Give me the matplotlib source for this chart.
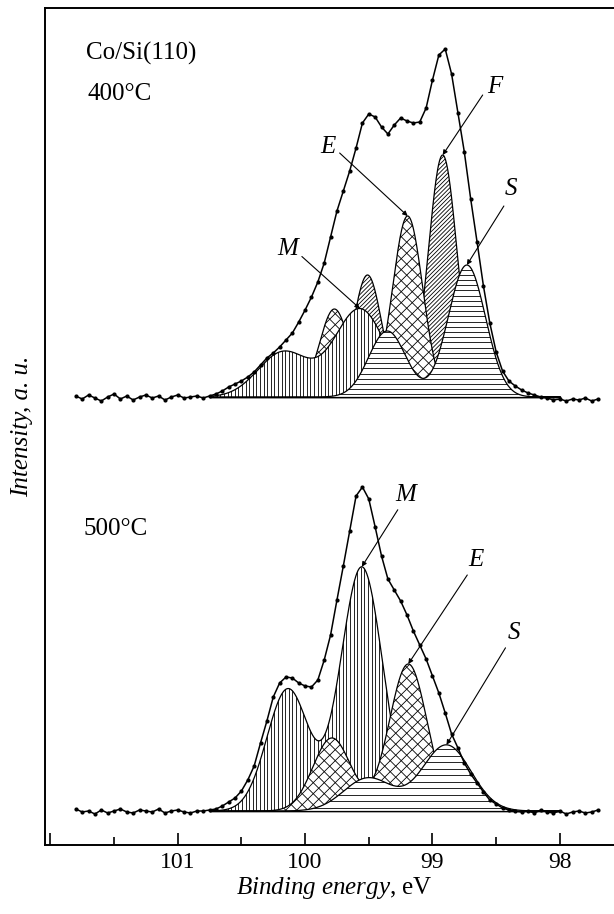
import numpy as np
import matplotlib
matplotlib.use("Agg")
import matplotlib.pyplot as plt
from matplotlib.patches import Polygon
from matplotlib.collections import LineCollection

plt.rcParams["font.family"] = ["Liberation Serif", "DejaVu Serif"]
plt.rcParams["mathtext.fontset"] = "custom"
plt.rcParams["mathtext.rm"] = "Liberation Serif"
plt.rcParams["mathtext.it"] = "Liberation Serif:italic"

# binding energy grid of the measured points, eV
energy = np.round(np.arange(101.80, 97.675, -0.05), 2)

# measured Si 2p intensity (a.u., above background), 400 C anneal
spec_400 = [1, -2, 2, -1, -4, 0, 3, -2, 1, -3, 0, 2, -1, 1, -3, 0, 2, -1, 0, 1, -1, 1,
            3, 6, 10, 13, 16, 20, 25, 32, 39, 44, 50, 57, 64, 75, 87, 100, 115, 134, 160, 186,
            206, 226, 249, 274, 283, 280, 270, 263, 272, 279, 276, 274, 275, 289, 317, 342,
            348, 323, 284, 245, 198, 155, 111, 74, 45, 26, 16, 11, 7, 4, 2, 0,
            -1, -3, -2, -4, -2, -3, -1, -4, -2]

# measured Si 2p intensity, 500 C anneal
spec_500 = [2, -1, 0, -3, 1, -2, 0, 2, -1, -2, 1, 0, -1, 2, -2, 0, 1, -1, -2, 0,
            0, 1, 2, 5, 9, 13, 20, 31, 45, 68, 90, 114, 128, 134, 133, 128, 125, 124, 131, 151,
            176, 211, 245, 280, 315, 324, 312, 284, 255, 232, 221, 210, 196, 180, 166, 152,
            135, 118, 98, 77, 63, 48, 37, 28, 19, 11, 7, 3, 1, 0,
            -1, 0, -2, 1, -1, -2, 0, -3, -1, 0, -2, -1, 1]

# fitted doublet components: (2p3/2, 2p1/2) positions, heights, FWHM
fit_400 = {
    "F": ([98.92, 99.51], [242, 122], 0.264),
    "E": ([99.195, 99.77], [181, 88], 0.278),
    "M": ([99.57, 100.17], [88, 45], 0.47),
    "S": ([98.73, 99.355], [132, 66], 0.344),
}
fit_500 = {
    "M": ([99.555, 100.135], [244, 122], 0.386),
    "E": ([99.19, 99.79], [147, 73], 0.35),
    "S": ([98.89, 99.505], [66, 33], 0.45),
}

PX = 127.4          # pixels per eV on the chosen axes
BASE_400 = 448      # vertical offsets of the two spectra
BASE_500 = 34


def profile(x, centers, heights, fwhm):
    s = fwhm / 2.3548
    return sum(h * np.exp(-0.5 * ((x - c) / s) ** 2) for c, h in zip(centers, heights))


def hatched(ax, x, y, base, kind, step, z):
    verts = np.column_stack([np.r_[x, x[::-1]], np.r_[base + y, np.full(len(x), base)]])
    patch = Polygon(verts, closed=True, facecolor="white", edgecolor="none", zorder=z)
    ax.add_patch(patch)
    u = (102 - x) * PX
    u0, u1 = u.min(), u.max()
    y0, y1 = base, base + y.max()
    segs = []
    for k in kind:
        if k == "|":
            for uu in np.arange(u0, u1, step):
                segs.append([(uu, y0), (uu, y1)])
        elif k == "-":
            for yy in np.arange(y0 + step / 2, y1, step):
                segs.append([(u0, yy), (u1, yy)])
        elif k == "/":
            for c in np.arange(y0 - u1, y1 - u0, step):
                segs.append([(u0, u0 + c), (u1, u1 + c)])
        elif k == "\\":
            for c in np.arange(y0 + u0, y1 + u1, step):
                segs.append([(u0, c - u0), (u1, c - u1)])
    segs = [[(102 - a / PX, b) for a, b in s] for s in segs]
    lc = LineCollection(segs, colors="k", linewidths=0.6, zorder=z + 0.1)
    ax.add_collection(lc)
    lc.set_clip_path(patch)
    ax.plot(x, base + y, color="k", lw=0.9, zorder=z + 0.2)
    ax.plot(x, np.full(len(x), base), color="k", lw=0.9, zorder=z + 0.2)


def pointer(ax, text, tip, tail, pos):
    ax.annotate("", xy=tip, xytext=(tail[0] * 0.72, tail[1] * 0.72),
                textcoords="offset points",
                arrowprops=dict(arrowstyle="-|>", lw=0.8, color="k",
                                mutation_scale=7, shrinkA=0, shrinkB=0),
                zorder=20)
    ax.annotate(text, xy=tip, xytext=(pos[0] * 0.72, pos[1] * 0.72),
                textcoords="offset points", ha="center", va="center",
                style="italic", fontsize=18, zorder=20)


styles = {"F": ("/", 4.2), "E": ("/\\", 11), "M": ("|", 3.6)}

fig = plt.figure(figsize=(6.14, 9.14), dpi=100)
ax = fig.add_axes([45 / 614, 69 / 914, 569 / 614, 837 / 914])

xs = np.linspace(100.75, 98.0, 700)

# 400 C: drawing order F, E, M, S
for z, name in enumerate(["F", "E", "M", "S"]):
    c, h, w = fit_400[name]
    kind, step = styles.get(name, ("-", 5.2))
    hatched(ax, xs, profile(xs, c, h, w), BASE_400, kind, step, 2 + z)

# 500 C: drawing order M, E, S
for z, name in enumerate(["M", "E", "S"]):
    c, h, w = fit_500[name]
    kind, step = styles.get(name, ("-", 6.5))
    hatched(ax, xs, profile(xs, c, h, w), BASE_500, kind, step, 2 + z)

for spec, base in [(spec_400, BASE_400), (spec_500, BASE_500)]:
    ax.plot(energy, base + np.array(spec), color="k", lw=1.1, zorder=10)
    ax.plot(energy, base + np.array(spec), "o", color="k", ms=3.0, mew=0, zorder=11)

# leaders: (label, fit, base, tail offset px, text offset px)
leaders = [
    ("M", fit_400["M"], BASE_400, (-58, 52), (-72, 60)),
    ("E", fit_400["E"], BASE_400, (-68, 63), (-80, 69)),
    ("F", fit_400["F"], BASE_400, (40, 60), (52, 68)),
    ("S", fit_400["S"], BASE_400, (37, 59), (44, 76)),
    ("M", fit_500["M"], BASE_500, (36, 57), (44, 72)),
    ("E", fit_500["E"], BASE_500, (59, 89), (68, 104)),
    ("S", fit_500["S"], BASE_500, (59, 97), (67, 112)),
]
for text, (c, h, w), base, tail, pos in leaders:
    tip = (c[0], base + profile(c[0], c, h, w))
    pointer(ax, text, tip, tail, pos)

ax.text(0.072, 0.938, "Co/Si(110)", transform=ax.transAxes, fontsize=18, va="baseline")
ax.text(0.074, 0.890, "400°C", transform=ax.transAxes, fontsize=18, va="baseline")
ax.text(0.068, 0.370, "500°C", transform=ax.transAxes, fontsize=18, va="baseline")

ax.set_xlim(102.042, 97.575)
ax.set_ylim(0, 837)
ax.set_xticks([102, 101, 100, 99, 98])
ax.set_xticklabels(["", "101", "100", "99", "98"])
ax.set_xticks([101.5, 100.5, 99.5, 98.5], minor=True)
ax.set_yticks([])
ax.tick_params(axis="x", which="major", direction="in", length=9, width=1.2,
               labelsize=17, pad=5)
ax.tick_params(axis="x", which="minor", direction="in", length=6, width=1.2)
ax.spines["right"].set_visible(False)
for s in ["left", "bottom", "top"]:
    ax.spines[s].set_linewidth(1.4)

ax.set_xlabel(r"$Binding\ energy$, eV", fontsize=18, va="baseline")
ax.xaxis.set_label_coords(0.508, -0.058)
ax.set_ylabel("Intensity, a. u.", fontsize=18, style="italic", va="center")
ax.yaxis.set_label_coords(-0.04, 0.5)

fig.savefig("out.png", dpi=100)
